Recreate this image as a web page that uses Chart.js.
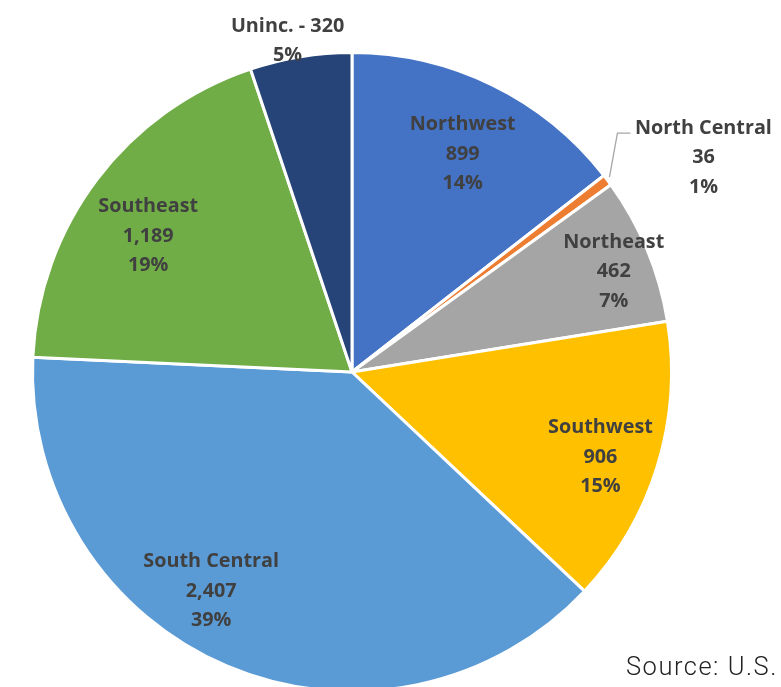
<!DOCTYPE html>
<html>
<head>
<meta charset="utf-8">
<script src="https://cdn.jsdelivr.net/npm/chart.js@4.4.1/dist/chart.umd.min.js"></script>
<style>
  html, body { margin: 0; padding: 0; background: #ffffff; overflow: hidden; }
  body { width: 781px; height: 687px; position: relative; }
  #wrap { position: absolute; left: 0; top: 0; width: 781px; height: 744px; }
  #source { position: absolute; left: 626px; top: 651px; font-family: Roboto, sans-serif; font-weight: 300;
            font-size: 25.5px; letter-spacing: 1.5px; color: #222; white-space: nowrap; }
</style>
</head>
<body>
<div id="wrap"><canvas id="pie"></canvas></div>
<div id="source">Source: U.S.</div>
<script>
// Regions and their counts
const regions = ['Northwest', 'North Central', 'Northeast', 'Southwest', 'South Central', 'Southeast', 'Uninc.'];
const counts = [899, 36, 462, 906, 2407, 1189, 320];
const percentLabels = ['14%', '1%', '7%', '15%', '39%', '19%', '5%'];
const sliceColors = ['#4472C4', '#ED7D31', '#A5A5A5', '#FFC000', '#5B9BD5', '#70AD47', '#264478'];

// Label placement per slice: radius fraction and angle shift (degrees) from the slice middle
const labelPlacement = [
  { r: 0.77, shift: 0.7 },
  { callout: true },
  { r: 0.88, shift: 1.1 },
  { r: 0.82, shift: 1.4 },
  { r: 0.81, shift: 10 },
  { r: 0.77, shift: -3 },
  { r: 1.06, shift: -1.7, oneLine: true }
];

const fmt = v => v.toLocaleString('en-US');

const sliceLabels = {
  id: 'sliceLabels',
  afterDatasetsDraw(chart) {
    const ctx = chart.ctx;
    const meta = chart.getDatasetMeta(0);
    ctx.save();
    ctx.font = 'bold 19.8px "Open Sans", Lato, sans-serif';
    ctx.fillStyle = '#404040';
    ctx.textAlign = 'center';
    ctx.textBaseline = 'middle';
    const lh = 29.5;
    const dy = 2;
    meta.data.forEach((arc, i) => {
      const p = arc.getProps(['x', 'y', 'startAngle', 'endAngle', 'outerRadius'], true);
      const place = labelPlacement[i];
      const mid = (p.startAngle + p.endAngle) / 2;
      if (place.callout) {
        // leader line from the rim out to the label
        const ex = p.x + Math.cos(mid) * p.outerRadius;
        const ey = p.y + Math.sin(mid) * p.outerRadius;
        const kx = ex + 10, ky = ey - 47;
        ctx.strokeStyle = '#A6A6A6';
        ctx.lineWidth = 1.3;
        ctx.beginPath();
        ctx.moveTo(ex + 2, ey - 3);
        ctx.lineTo(kx, ky);
        ctx.lineTo(kx + 13, ky);
        ctx.stroke();
        const tx = kx + 86, ty = ky - 5;
        ctx.fillText(regions[i], tx, ty);
        ctx.fillText(fmt(counts[i]), tx, ty + lh);
        ctx.fillText(percentLabels[i], tx, ty + 2 * lh);
        return;
      }
      const a = mid + place.shift * Math.PI / 180;
      const cx = p.x + Math.cos(a) * p.outerRadius * place.r;
      const cy = p.y + Math.sin(a) * p.outerRadius * place.r + dy;
      if (place.oneLine) {
        ctx.fillText(regions[i] + ' - ' + fmt(counts[i]), cx, cy - lh / 2);
        ctx.fillText(percentLabels[i], cx, cy + lh / 2 - 1);
      } else {
        ctx.fillText(regions[i], cx, cy - lh);
        ctx.fillText(fmt(counts[i]), cx, cy);
        ctx.fillText(percentLabels[i], cx, cy + lh);
      }
    });
    ctx.restore();
  }
};

new Chart(document.getElementById('pie'), {
  type: 'pie',
  data: {
    labels: regions,
    datasets: [{
      data: counts,
      backgroundColor: sliceColors,
      borderColor: '#ffffff',
      borderWidth: 3
    }]
  },
  options: {
    responsive: true,
    maintainAspectRatio: false,
    animation: false,
    layout: { padding: { top: 51, bottom: 51, left: 31, right: 108 } },
    plugins: { legend: { display: false }, tooltip: { enabled: false } }
  },
  plugins: [sliceLabels]
});
</script>
</body>
</html>
